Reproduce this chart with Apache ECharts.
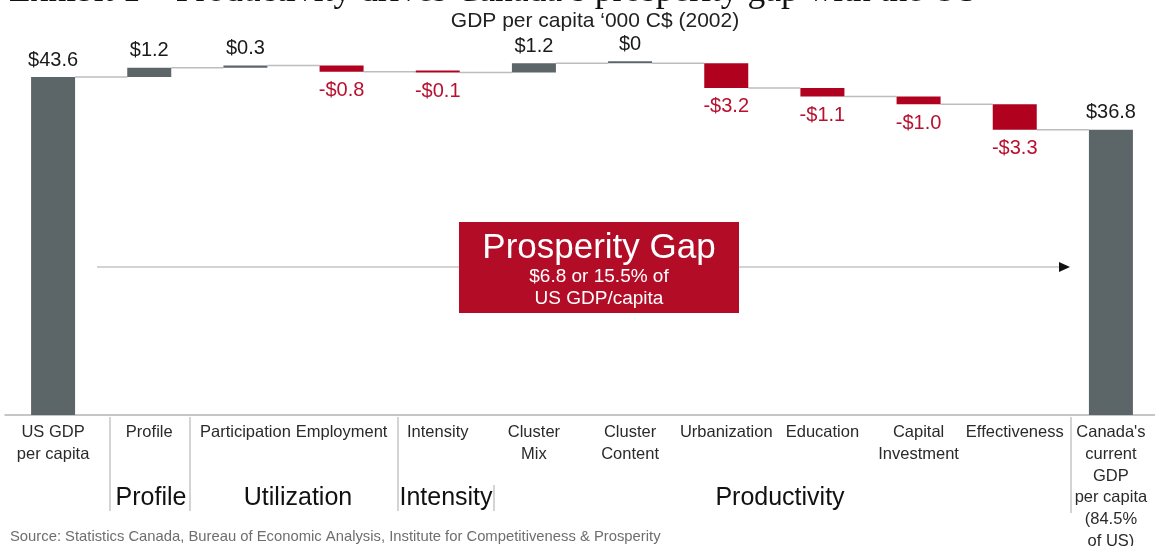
<!DOCTYPE html>
<html>
<head>
<meta charset="utf-8">
<script src="https://cdn.jsdelivr.net/npm/echarts@6/dist/echarts.min.js"></script>
<style>
  html, body { margin: 0; padding: 0; background: #ffffff; }
  #chart { width: 1155px; height: 546px; }
</style>
</head>
<body>
<div id="chart"></div>
<script>
// GDP per capita, thousands of 2002 C$: US starting level, the contribution of each factor, Canada's level
const categories = [
  'US GDP\nper capita', 'Profile', 'Participation', 'Employment', 'Intensity',
  'Cluster\nMix', 'Cluster\nContent', 'Urbanization', 'Education',
  'Capital\nInvestment', 'Effectiveness',
  "Canada's\ncurrent\nGDP\nper capita\n(84.5%\nof US)"
];
const startValue = 43.6;
const factorChanges = [1.2, 0.3, -0.8, -0.1, 1.2, 0, -3.2, -1.1, -1.0, -3.3];
const endValue = 36.8;

const groupLabels = ['Profile', 'Utilization', 'Intensity', 'Productivity'];

const FONT = "'Liberation Sans', Arial, Helvetica, sans-serif";
const GRAY = '#5c6568';
const RED = '#b0021f';
const LABEL_RED = '#b8102e';

// waterfall: invisible base + visible step
const baseData = [];
const stepData = [];
const levels = [];           // running total after each bar
let running = startValue;
baseData.push(0);
stepData.push({ value: startValue, raw: startValue, itemStyle: { color: GRAY }, label: { position: 'top' } });
levels.push(startValue);
factorChanges.forEach(function (d) {
  const next = running + d;
  baseData.push(Math.min(running, next));
  stepData.push({
    value: Math.abs(d),
    raw: d,
    itemStyle: { color: d < 0 ? RED : GRAY },
    label: d < 0
      ? { position: 'bottom', color: LABEL_RED, distance: 9 }
      : { position: 'top', color: '#1a1a1a', distance: 7 }
  });
  running = next;
  levels.push(running);
});
baseData.push(0);
stepData.push({ value: endValue, raw: endValue, itemStyle: { color: GRAY }, label: { position: 'top' } });
levels.push(endValue);

function money(v) {
  if (v === 0) return '$0';
  return (v < 0 ? '-$' : '$') + Math.abs(v).toFixed(1);
}

const chart = echarts.init(document.getElementById('chart'), null, { renderer: 'canvas' });

function groupText(x, text) {
  return {
    type: 'text', x: x, y: 498, z: 7,
    style: { text: text, fontFamily: FONT, fontSize: 25, fill: '#111', align: 'center', verticalAlign: 'middle' }
  };
}
function separator(x, y1, y2) {
  return {
    type: 'line', z: 5,
    shape: { x1: x, y1: y1, x2: x, y2: y2 },
    style: { stroke: '#b8b8b8', lineWidth: 1.2 }
  };
}

chart.setOption({
  animation: false,
  backgroundColor: '#ffffff',
  grid: {
    left: 5, right: -4, top: 27.5, bottom: 131,
    containLabel: false, outerBoundsMode: 'none'
  },
  xAxis: {
    type: 'category',
    data: categories,
    axisLine: { lineStyle: { color: '#b4b4b4', width: 1.5 } },
    axisTick: { show: false },
    axisLabel: {
      interval: 0, color: '#2a2a2a', fontSize: 16.5, lineHeight: 21.7,
      margin: 7, fontFamily: FONT
    }
  },
  yAxis: { type: 'value', min: 0, max: 50, show: false, splitLine: { show: false } },
  series: [
    {
      type: 'custom',
      name: 'connectors',
      silent: true,
      z: 1,
      data: levels.slice(0, levels.length - 1).map(function (v, i) { return [i, v]; }),
      renderItem: function (params, api) {
        const i = api.value(0);
        const v = api.value(1);
        const p0 = api.coord([i, v]);
        const p1 = api.coord([i + 1, v]);
        const half = 22;
        return {
          type: 'line',
          shape: { x1: p0[0] + half, y1: p0[1], x2: p1[0] - half, y2: p1[1] },
          style: { stroke: '#bdbdbd', lineWidth: 1.5 }
        };
      }
    },
    {
      type: 'bar',
      name: 'base',
      stack: 'w',
      barWidth: 44,
      silent: true,
      itemStyle: { color: 'rgba(0,0,0,0)' },
      data: baseData,
      z: 2
    },
    {
      type: 'bar',
      name: 'step',
      stack: 'w',
      barWidth: 44,
      barMinHeight: 2,
      z: 3,
      data: stepData,
      label: {
        show: true,
        fontSize: 20,
        fontFamily: FONT,
        color: '#1a1a1a',
        distance: 7,
        formatter: function (p) { return money(p.data.raw); }
      }
    }
  ],
  graphic: [
    // exhibit heading, running off the top edge
    {
      type: 'text', left: 9, top: -26, z: 10,
      style: {
        text: "Exhibit 1 \u2013 Productivity drives Canada\u2019s prosperity gap with the US",
        fontFamily: "'Liberation Serif', 'Times New Roman', serif",
        fontSize: 35.5, fill: '#111111'
      }
    },
    {
      type: 'text', x: 595, y: 21, z: 10,
      style: {
        text: 'GDP per capita \u2018000 C$ (2002)', fontFamily: FONT, fontSize: 21,
        fill: '#222222', align: 'center', verticalAlign: 'middle'
      }
    },
    // gap arrow
    {
      type: 'line', z: 5,
      shape: { x1: 97, y1: 267, x2: 1062, y2: 267 },
      style: { stroke: '#c4c4c4', lineWidth: 1.5 }
    },
    {
      type: 'polygon', z: 5,
      shape: { points: [[1059, 262], [1070, 267], [1059, 272]] },
      style: { fill: '#111111' }
    },
    {
      type: 'rect', z: 6,
      shape: { x: 459, y: 222, width: 280, height: 91 },
      style: { fill: '#b20c26' }
    },
    {
      type: 'text', x: 599, y: 248, z: 7,
      style: {
        text: 'Prosperity Gap', fontFamily: FONT, fontSize: 35, fill: '#ffffff',
        align: 'center', verticalAlign: 'middle'
      }
    },
    {
      type: 'text', x: 599, y: 288, z: 7,
      style: {
        text: '$6.8 or 15.5% of\nUS GDP/capita', fontFamily: FONT, fontSize: 19,
        lineHeight: 22, fill: '#ffffff', align: 'center', verticalAlign: 'middle'
      }
    },
    // group separators
    separator(110, 417, 511),
    separator(190, 417, 511),
    separator(398, 417, 511),
    separator(494, 485, 511),
    separator(1071, 417, 513),
    // group names
    groupText(151, groupLabels[0]),
    groupText(298, groupLabels[1]),
    groupText(446, groupLabels[2]),
    groupText(780, groupLabels[3]),
    {
      type: 'text', x: 10, y: 537, z: 7,
      style: {
        text: 'Source: Statistics Canada, Bureau of Economic Analysis, Institute for Competitiveness & Prosperity',
        fontFamily: FONT, fontSize: 14.8, fill: '#6e6e6e', verticalAlign: 'middle'
      }
    }
  ]
});
</script>
</body>
</html>
